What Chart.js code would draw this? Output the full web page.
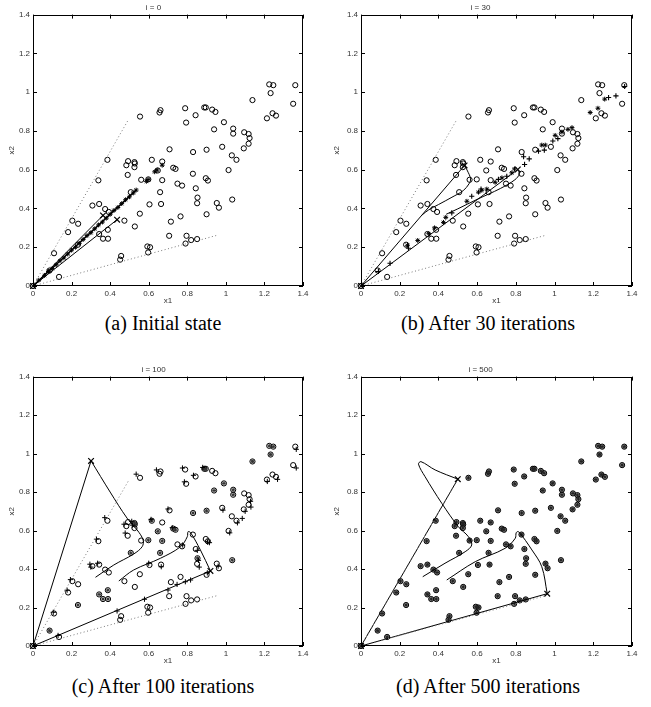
<!DOCTYPE html>
<html><head><meta charset="utf-8">
<script src="https://cdn.jsdelivr.net/npm/chart.js@4/dist/chart.umd.min.js"></script>
<style>
body{margin:0;background:#fff;width:651px;height:707px;position:relative;overflow:hidden}
canvas{position:absolute}
.cap{position:absolute;width:326px;text-align:center;font-family:"Liberation Serif","Times New Roman",serif;font-size:20px;line-height:24px;color:#000}
</style></head><body>
<canvas id="ca" width="325" height="308" style="left:0;top:0"></canvas>
<canvas id="cb" width="326" height="308" style="left:325px;top:0"></canvas>
<canvas id="cc" width="325" height="306" style="left:0;top:362px"></canvas>
<canvas id="cd" width="326" height="306" style="left:325px;top:362px"></canvas>
<div class="cap" style="left:0;top:311px">(a) Initial state</div>
<div class="cap" style="left:325px;top:311px">(b) After 30 iterations</div>
<div class="cap" style="left:0;top:674px">(c) After 100 iterations</div>
<div class="cap" style="left:325px;top:674px">(d) After 500 iterations</div>
<script>
// ---- data ----
const tickValues = [0,0.2,0.4,0.6,0.8,1,1.2,1.4];
const tickLabels = ['0','0.2','0.4','0.6','0.8','1','1.2','1.4'];
const titles = ['i = 0','i = 30','i = 100','i = 500'];
const circles = [
[1.225,1.040],[1.246,1.036],[1.360,1.036],[1.232,0.995],[1.138,0.959],[1.349,0.940],[1.242,0.891],[1.260,0.879],[1.213,0.865],
[0.789,0.917],[0.888,0.921],[0.896,0.921],[0.929,0.910],[0.946,0.898],[0.843,0.881],[0.794,0.843],[0.990,0.845],[0.939,0.808],
[1.038,0.812],[1.038,0.786],[1.095,0.793],[1.118,0.784],[1.123,0.763],[1.118,0.734],[1.093,0.710],[1.031,0.674],[1.055,0.651],
[0.981,0.718],[1.014,0.598],[1.033,0.446],[0.555,0.874],[0.656,0.895],[0.661,0.907],[0.386,0.651],
[0.900,0.703],[0.708,0.705],[0.830,0.691],[0.616,0.651],[0.670,0.642],[0.484,0.623],[0.493,0.644],[0.526,0.639],[0.528,0.632],
[0.526,0.613],[0.491,0.573],[0.727,0.610],[0.739,0.604],[0.829,0.579],[0.561,0.548],[0.598,0.550],[0.647,0.596],[0.670,0.546],
[0.896,0.556],[0.907,0.544],[0.749,0.528],[0.773,0.518],[0.844,0.504],[0.659,0.484],[0.507,0.484],[0.604,0.421],[0.664,0.423],
[0.853,0.456],[0.851,0.427],[0.953,0.428],[0.964,0.404],[0.765,0.359],[0.900,0.370],[0.715,0.332],[0.554,0.373],[0.528,0.307],
[0.474,0.337],[0.374,0.397],[0.393,0.382],[0.339,0.545],[0.308,0.415],[0.343,0.423],[0.388,0.290],[0.343,0.268],[0.363,0.244],
[0.389,0.244],[0.204,0.337],[0.234,0.321],[0.182,0.278],[0.109,0.169],[0.086,0.080],[0.135,0.047],[0.706,0.259],[0.796,0.259],
[0.820,0.237],[0.851,0.242],[0.791,0.219],[0.593,0.204],[0.607,0.200],[0.597,0.173],[0.457,0.155],[0.452,0.136],[0.233,0.213],[0,0]
];
const dotUpper = [[0,0],[0.493,0.855]];
const dotLower = [[0,0],[0.952,0.261]];

const aLine1 = [[0,0],[0.363,0.364]];
const aLine2 = [[0,0],[0.436,0.342]];
const aDiag = [[0,0],[0.535,0.495]];
const aCross = [[0,0],[0.363,0.364],[0.436,0.342]];
const aStars = [[0.03,0.03],[0.06,0.055],[0.08,0.075],[0.10,0.09],[0.12,0.11],[0.14,0.13],[0.16,0.145],[0.18,0.165],[0.20,0.185],
[0.22,0.20],[0.24,0.22],[0.26,0.24],[0.28,0.26],[0.30,0.275],[0.32,0.295],[0.34,0.315],[0.36,0.33],[0.38,0.35],[0.40,0.37],
[0.42,0.39],[0.44,0.405],[0.46,0.425],[0.48,0.445],[0.50,0.46],[0.52,0.48],[0.535,0.495],[0.588,0.54],[0.597,0.549],[0.631,0.589],[0.644,0.598],[0.670,0.623]];

const bLine1 = [[0,0],[0.535,0.622]];
const bCurve1 = [[0.535,0.622],[0.548,0.598],[0.566,0.553],[0.558,0.527],[0.528,0.492],[0.47,0.458],[0.40,0.42],[0.35,0.393],[0.315,0.366]];
const bLine2 = [[0,0],[0.81,0.601]];
const bCurve2 = [[0.81,0.601],[0.818,0.578],[0.795,0.548],[0.72,0.503],[0.60,0.447],[0.50,0.398],[0.44,0.37]];
const bCross = [[0,0],[0.535,0.622],[0.81,0.601]];
const bPlus = [[0.15,0.117],[0.09,0.075],[0.245,0.195],[0.469,0.377],[0.572,0.463],[0.753,0.566],[0.84,0.667],[0.869,0.656],
[0.845,0.627],[0.917,0.696],[0.947,0.701],[0.991,0.748],[1.017,0.760],[1.279,0.972],[1.317,0.981],[1.362,1.029],[0.62,0.50],[0.71,0.55]];
const bStars = [[0.293,0.235],[0.35,0.27],[0.426,0.328],[0.438,0.354],[0.547,0.437],[0.607,0.484],[0.624,0.494],[0.65,0.50],
[0.693,0.535],[0.728,0.558],[0.779,0.584],[0.793,0.604],[0.934,0.727],[0.952,0.727],[1.003,0.777],[1.038,0.794],[1.069,0.808],
[1.09,0.817],[1.184,0.895],[1.224,0.917],[1.259,0.964],[0.38,0.30],[0.24,0.21]];

const cLine1 = [[0,0],[0.301,0.962]];
const cCurve1 = [[0.301,0.962],[0.40,0.80],[0.488,0.664],[0.54,0.603],[0.571,0.551],[0.566,0.516],[0.522,0.478],[0.419,0.421],[0.324,0.357]];
const cLine2 = [[0,0],[0.920,0.390]];
const cCurve2 = [[0.920,0.390],[0.868,0.499],[0.817,0.589],[0.804,0.594],[0.80,0.568],[0.765,0.516],[0.661,0.456],[0.522,0.395],[0.445,0.338]];
const cCross = [[0,0],[0.301,0.962],[0.920,0.390]];
const cPlus = [[0.535,0.893],[0.640,0.915],[0.775,0.925],[0.785,0.853],[0.832,0.887],[0.880,0.928],[0.372,0.667],[0.329,0.555],
[0.295,0.425],[0.194,0.345],[0.177,0.290],[0.478,0.587],[0.472,0.633],[0.512,0.648],[0.515,0.628],[0.612,0.658],[0.700,0.712],
[0.722,0.615],[0.776,0.525],[0.852,0.497],[0.858,0.445],[0.862,0.410],[0.905,0.540],[0.915,0.537],[0.960,0.415],[0.985,0.706],
[1.020,0.588],[1.060,0.640],[1.085,0.663],[1.100,0.700],[1.128,0.752],[1.130,0.722],[1.215,0.855],[1.268,0.866],[1.365,0.925],
[1.365,1.022],[0.436,0.182],[0.578,0.243],[0.700,0.291],[0.747,0.320],[0.790,0.334],[0.817,0.343],[0.904,0.380],[0.665,0.412],
[0.600,0.430],[0.105,0.175],[0.130,0.055],[0.300,0.410],[0.335,0.430]];
const cStars = [[0.086,0.080],[0.233,0.213],[0.388,0.290],[0.507,0.484],[0.939,0.808],[0.990,0.845],[1.138,0.959],[0.830,0.691],
[0.900,0.703],[0.647,0.596],[0.598,0.550],[0.670,0.546],[0.526,0.639],[0.528,0.632],[1.232,0.995],[1.225,1.040],[1.246,1.036],
[1.038,0.812],[1.038,0.786],[1.033,0.446],[0.853,0.456],[0.616,0.651],[0.727,0.610],[0.739,0.604],[0.659,0.484],[0.343,0.268],
[0.363,0.244],[0.389,0.244],[0.888,0.921],[0.896,0.921]];

const dLine1 = [[0,0],[0.50,0.867]];
const dCurve1 = [[0.50,0.867],[0.383,0.915],[0.31,0.958],[0.297,0.945],[0.331,0.880],[0.417,0.742],[0.503,0.620],[0.555,0.568],[0.572,0.525],[0.538,0.49],[0.434,0.43],[0.319,0.36]];
const dLine2 = [[0,0],[0.962,0.272]];
const dCurve2 = [[0.962,0.272],[0.934,0.412],[0.883,0.499],[0.814,0.594],[0.802,0.589],[0.797,0.56],[0.745,0.508],[0.59,0.438],[0.443,0.343]];
const dCross = [[0,0],[0.50,0.867],[0.962,0.272]];

// ---- drawing ----
const xy = a => a.map(([x,y]) => ({x,y}));
const lineDS = (d, extra={}) => Object.assign({data: xy(d), showLine:true, pointRadius:0, borderColor:'#000', borderWidth:1, fill:false, clip:false}, extra);
const ptDS = (d, style, r, extra={}) => Object.assign({data: xy(d), showLine:false, pointStyle:style, pointRadius:r, pointHoverRadius:r, borderColor:'#000', backgroundColor:'rgba(0,0,0,0)', pointBorderWidth:1, clip:false}, extra);
const dotted = [lineDS(dotUpper,{borderColor:'#777',borderDash:[1,2.5]}), lineDS(dotLower,{borderColor:'#777',borderDash:[1,2.5]})];

const boxPlugin = {
  id:'box',
  afterDraw(chart){
    const {ctx, chartArea:a, scales:{x,y}} = chart;
    ctx.save(); ctx.strokeStyle='#000'; ctx.lineWidth=1;
    ctx.strokeRect(Math.round(a.left)+0.5, Math.round(a.top)+0.5, Math.round(a.width)-1, Math.round(a.height)-1);
    ctx.beginPath();
    x.ticks.forEach(t=>{const p=Math.round(x.getPixelForValue(t.value))+0.5; ctx.moveTo(p,a.bottom); ctx.lineTo(p,a.bottom-4); ctx.moveTo(p,a.top); ctx.lineTo(p,a.top+4);});
    y.ticks.forEach(t=>{const p=Math.round(y.getPixelForValue(t.value))+0.5; ctx.moveTo(a.left,p); ctx.lineTo(a.left+4,p); ctx.moveTo(a.right,p); ctx.lineTo(a.right-4,p);});
    ctx.stroke(); ctx.restore();
  }
};

function panel(id, title, datasets, yWidth, padRight){
  const tickFont = {family:'"Liberation Sans", Arial, sans-serif', size:8, weight:'normal'};
  const fmt = (v, i) => tickLabels[i];
  new Chart(document.getElementById(id), {
    type:'scatter',
    data:{datasets},
    plugins:[boxPlugin],
    options:{
      responsive:false, animation:false, devicePixelRatio:1,
      layout:{autoPadding:false, padding:{left:4,right:padRight,top:0,bottom:0}},
      plugins:{legend:{display:false}, tooltip:{enabled:false},
        title:{display:true, text:title, color:'#333', font:tickFont, padding:{top:3,bottom:2}}},
      scales:{
        x:{type:'linear', min:0, max:1.4, afterBuildTicks:s=>{s.ticks = tickValues.map(v=>({value:v}));},
           ticks:{font:tickFont, color:'#333', padding:3, maxRotation:0, autoSkip:false, callback:fmt},
           grid:{display:false, drawTicks:false}, border:{display:false},
           title:{display:true, text:'x1', color:'#333', font:tickFont, padding:{top:0,bottom:2}},
           afterFit:s=>{s.height=22;}},
        y:{type:'linear', min:0, max:1.4, afterBuildTicks:s=>{s.ticks = tickValues.map(v=>({value:v}));},
           ticks:{font:tickFont, color:'#333', padding:3, autoSkip:false, callback:fmt},
           grid:{display:false, drawTicks:false}, border:{display:false},
           title:{display:true, text:'x2', color:'#333', font:tickFont, padding:{top:3,bottom:0}},
           afterFit:s=>{s.width=yWidth;}}
      }
    }
  });
}

const circleDS = () => ptDS(circles,'circle',2.6);
panel('ca', titles[0], [
  ...dotted, lineDS(aLine1), lineDS(aLine2), lineDS(aDiag,{borderWidth:1.6}),
  ptDS(aStars,'star',2.4,{pointBorderWidth:1}),
  ptDS(aCross,'crossRot',4,{pointBorderWidth:1.2}),
  circleDS()
], 29, 22);
panel('cb', titles[1], [
  ...dotted, lineDS(bLine1), lineDS(bCurve1,{tension:0.35}), lineDS(bLine2), lineDS(bCurve2,{tension:0.35}),
  ptDS(bPlus,'cross',2.6,{pointBorderWidth:1.1}), ptDS(bStars,'star',2.4,{pointBorderWidth:1}),
  ptDS(bCross,'crossRot',4,{pointBorderWidth:1.2}),
  circleDS()
], 32, 19);
panel('cc', titles[2], [
  ...dotted, lineDS(cLine1), lineDS(cCurve1,{tension:0.35}), lineDS(cLine2), lineDS(cCurve2,{tension:0.35}),
  ptDS(cPlus,'cross',2.6,{pointBorderWidth:1}), ptDS(cStars,'star',1.9,{pointBorderWidth:1,borderColor:'#333'}),
  ptDS(cCross,'crossRot',4,{pointBorderWidth:1.2}),
  circleDS()
], 29, 22);
panel('cd', titles[3], [
  ...dotted, lineDS(dLine1), lineDS(dCurve1,{tension:0.35}), lineDS(dLine2), lineDS(dCurve2,{tension:0.35}),
  ptDS(circles,'star',1.9,{pointBorderWidth:1, borderColor:'#222'}),
  ptDS(dCross,'crossRot',4,{pointBorderWidth:1.2}),
  ptDS(circles,'circle',2.6,{backgroundColor:'rgba(70,70,70,0.5)'})
], 32, 19);
</script>
</body></html>
